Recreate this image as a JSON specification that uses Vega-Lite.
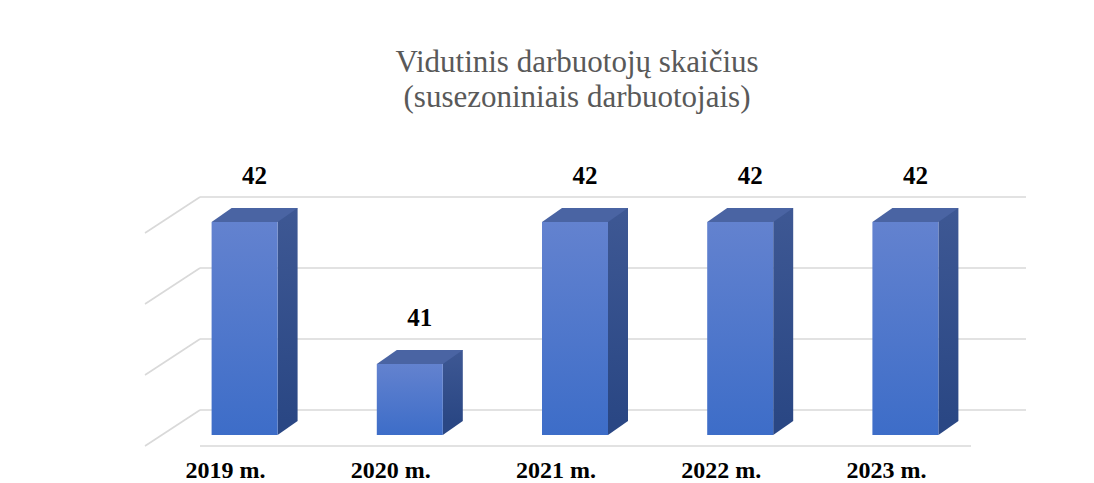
{
  "$schema": "https://vega.github.io/schema/vega-lite/v6.json",
  "autosize": {"type": "none"},
  "width": 826,
  "height": 213,
  "padding": {"left": 200, "top": 197, "right": 68, "bottom": 73},
  "background": "#ffffff",
  "config": {"view": {"stroke": null}},
  "title": {
    "text": ["Vidutinis darbuotojų skaičius", "(susezoniniais darbuotojais)"],
    "font": "'Liberation Serif', 'Times New Roman', serif",
    "fontSize": 31,
    "fontWeight": "normal",
    "color": "#595959",
    "anchor": "middle",
    "frame": "group",
    "baseline": "alphabetic",
    "lineHeight": 35,
    "dx": -36,
    "offset": 26
  },
  "datasets": {
    "bars": [
      {"year": "2019 m.", "value": 42},
      {"year": "2020 m.", "value": 41},
      {"year": "2021 m.", "value": 42},
      {"year": "2022 m.", "value": 42},
      {"year": "2023 m.", "value": 42}
    ],
    "grid": [
      {"v": 40.5},
      {"v": 41},
      {"v": 41.5},
      {"v": 42}
    ]
  },
  "layer": [
    {
      "data": {"name": "grid"},
      "mark": {"type": "rule", "stroke": "#d9d9d9", "strokeWidth": 1.6},
      "encoding": {
        "y": {"field": "v", "type": "quantitative", "scale": {"domain": [40.5, 42], "zero": false, "nice": false}, "axis": null}
      }
    },
    {
      "data": {"name": "grid"},
      "mark": {"type": "point", "shape": "M-82.6,0L-137.6,36", "size": 4, "filled": false, "stroke": "#d9d9d9", "strokeWidth": 1.6, "opacity": 1},
      "encoding": {
        "x": {"datum": "2019 m.", "type": "nominal"},
        "y": {"field": "v", "type": "quantitative"}
      }
    },
    {
      "data": {"name": "grid"},
      "transform": [{"filter": "datum.v == 40.5"}],
      "mark": {"type": "rule", "stroke": "#d9d9d9", "strokeWidth": 1.6, "xOffset": -55, "yOffset": 36},
      "encoding": {
        "y": {"field": "v", "type": "quantitative"}
      }
    },
    {
      "data": {"name": "bars"},
      "mark": {
        "type": "bar",
        "width": 20,
        "xOffset": 5,
        "yOffset": 11,
        "y2Offset": 11,
        "fill": {"gradient": "linear", "x1": 0, "y1": 0, "x2": 0, "y2": 1, "stops": [{"offset": 0, "color": "#3e5894"}, {"offset": 1, "color": "#2a4784"}]}
      },
      "encoding": {
        "x": {"field": "year", "type": "nominal", "sort": null, "scale": {"paddingInner": 0, "paddingOuter": 0},
          "axis": {"title": null, "domain": false, "ticks": false, "labelAngle": 0, "labelAlign": "center", "labelFont": "'Liberation Serif', 'Times New Roman', serif", "labelFontWeight": "bold", "labelFontSize": 24, "labelColor": "#000000", "labelOffset": -57, "labelPadding": 60}},
        "y": {"field": "value", "type": "quantitative"},
        "y2": {"datum": 40.5}
      }
    },
    {
      "data": {"name": "bars"},
      "mark": {"type": "point", "shape": "M-5,11L15,11L-5,25Z", "size": 4, "filled": true, "fill": "#2a4784", "opacity": 1, "strokeWidth": 0},
      "encoding": {
        "x": {"field": "year", "type": "nominal", "sort": null},
        "y": {"datum": 40.5}
      }
    },
    {
      "data": {"name": "bars"},
      "mark": {"type": "point", "shape": "M-71,25L-5,25L15,11L-51,11Z", "size": 4, "filled": true, "fill": "#4a64a3", "opacity": 1, "strokeWidth": 0},
      "encoding": {
        "x": {"field": "year", "type": "nominal", "sort": null},
        "y": {"field": "value", "type": "quantitative"}
      }
    },
    {
      "data": {"name": "bars"},
      "mark": {
        "type": "bar",
        "width": 66,
        "xOffset": -38,
        "yOffset": 25,
        "y2Offset": 25,
        "fill": {"gradient": "linear", "x1": 0, "y1": 0, "x2": 0, "y2": 1, "stops": [{"offset": 0, "color": "#6382cf"}, {"offset": 1, "color": "#3d6dc8"}]}
      },
      "encoding": {
        "x": {"field": "year", "type": "nominal", "sort": null},
        "y": {"field": "value", "type": "quantitative"},
        "y2": {"datum": 40.5}
      }
    },
    {
      "data": {"name": "bars"},
      "mark": {"type": "text", "font": "'Liberation Serif', 'Times New Roman', serif", "fontWeight": "bold", "fontSize": 25, "color": "#000000", "baseline": "middle", "align": "center", "xOffset": -28, "yOffset": -21},
      "encoding": {
        "x": {"field": "year", "type": "nominal", "sort": null},
        "y": {"field": "value", "type": "quantitative"},
        "text": {"field": "value", "type": "quantitative"}
      }
    }
  ]
}
